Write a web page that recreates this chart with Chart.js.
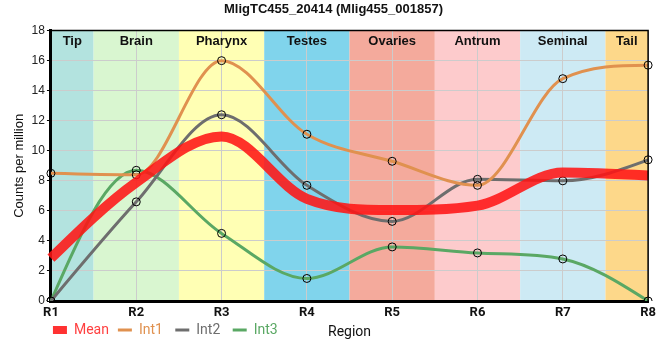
<!DOCTYPE html>
<html lang="en">
<head>
    <meta charset="UTF-8">
    <title>MligTC455_20414</title>
    <script src="https://cdn.jsdelivr.net/npm/chart.js"></script>
    <style>
        body {
            margin: 0;
            background: white;
        }
        #chart-container {
            width: 660px;
            height: 360px;
        }
    </style>
</head>
<body>
    <div id="chart-container">
        <canvas id="regionChart" width="660" height="360"></canvas>
    </div>

    <script>
        // data
        const regions = ['R1', 'R2', 'R3', 'R4', 'R5', 'R6', 'R7', 'R8'];
        const meanValues = [2.85, 7.9, 10.95, 6.8, 6.05, 6.35, 8.55, 8.35];
        const int1Values = [8.5, 8.4, 16.0, 11.1, 9.3, 7.7, 14.8, 15.7];
        const int2Values = [0, 6.6, 12.4, 7.7, 5.3, 8.1, 8.0, 9.4];
        const int3Values = [0, 8.7, 4.5, 1.5, 3.6, 3.2, 2.8, 0];
        const yTicks = [0, 2, 4, 6, 8, 10, 12, 14, 16, 18];

        // body regions shaded behind the plot
        const tissueNames = ['Tip', 'Brain', 'Pharynx', 'Testes', 'Ovaries', 'Antrum', 'Seminal', 'Tail'];
        const tissueColors = ['#b3e3df', '#d9f6d0', '#ffffb4', '#80d4ec', '#f4aa9c', '#fdcbcc', '#cdeaf4', '#fdd88a'];

        const seriesColors = {
            mean: 'rgba(255, 20, 20, 0.87)',
            int1: '#e0914f',
            int2: '#6e6e6e',
            int3: '#5aa864'
        };
        const legendText = {
            mean: '#ff4040',
            int1: '#e0914f',
            int2: '#6e6e6e',
            int3: '#5aa864'
        };

        const tissueBands = {
            id: 'tissueBands',
            beforeDraw(chart) {
                const { ctx, chartArea } = chart;
                const x = chart.scales.x;
                ctx.save();
                tissueNames.forEach((name, i) => {
                    const left = Math.max(chartArea.left, x.getPixelForValue(i - 0.5));
                    const right = Math.min(chartArea.right, x.getPixelForValue(i + 0.5));
                    ctx.fillStyle = tissueColors[i];
                    ctx.fillRect(left, chartArea.top, right - left, chartArea.bottom - chartArea.top);
                });
                ctx.restore();
            },
            beforeDatasetDraw(chart, args) {
                // steeper end tangents, like a d3 monotone curve
                const line = args.meta.dataset;
                const pts = args.meta.data;
                if (!line || pts.length < 3) return;
                line.updateControlPoints(chart.chartArea, 'x');
                const n = pts.length;
                const a = pts[0], b = pts[1];
                const s0 = (b.y - a.y) / (b.x - a.x);
                const t1 = (b.cp2y - b.y) / (b.cp2x - b.x);
                const t0 = (3 * s0 - t1) / 2;
                a.cp2y = a.y + t0 * (a.cp2x - a.x);
                const c = pts[n - 2], d = pts[n - 1];
                const sn = (d.y - c.y) / (d.x - c.x);
                const tc = (c.cp2y - c.y) / (c.cp2x - c.x);
                const tn = (3 * sn - tc) / 2;
                d.cp1y = d.y - tn * (d.x - d.cp1x);
            },
            afterDatasetsDraw(chart) {
                const { ctx, chartArea } = chart;
                const x = chart.scales.x;
                ctx.save();
                ctx.font = 'bold 13px "Liberation Sans", Arial, sans-serif';
                ctx.fillStyle = '#111';
                ctx.textAlign = 'center';
                ctx.textBaseline = 'middle';
                tissueNames.forEach((name, i) => {
                    const left = Math.max(chartArea.left, x.getPixelForValue(i - 0.5));
                    const right = Math.min(chartArea.right, x.getPixelForValue(i + 0.5));
                    ctx.fillText(name, (left + right) / 2, chartArea.top + 11);
                });
                // frame round the plot
                ctx.strokeStyle = '#000';
                ctx.lineWidth = 1.5;
                ctx.beginPath();
                ctx.moveTo(chartArea.left, chartArea.top);
                ctx.lineTo(chartArea.right, chartArea.top);
                ctx.lineTo(chartArea.right, chartArea.bottom);
                ctx.stroke();
                ctx.restore();
            },
            afterDraw(chart) {
                // x axis title sits on the legend row
                const { ctx, chartArea, legend } = chart;
                if (!legend || !legend.legendHitBoxes.length) return;
                const box = legend.legendHitBoxes[0];
                ctx.save();
                ctx.font = '14px Roboto, sans-serif';
                ctx.fillStyle = '#111';
                ctx.textAlign = 'center';
                ctx.textBaseline = 'middle';
                ctx.fillText('Region', (chartArea.left + chartArea.right) / 2, box.top + box.height / 2 + 2);
                ctx.restore();
            }
        };

        function lineSet(label, data, color, width, points) {
            return {
                label: label,
                data: data,
                borderColor: color,
                backgroundColor: color,
                borderWidth: width,
                fill: false,
                cubicInterpolationMode: 'monotone',
                pointRadius: points ? 4 : 0,
                pointHoverRadius: points ? 4 : 0,
                pointBackgroundColor: 'rgba(0,0,0,0)',
                pointBorderColor: '#000',
                pointBorderWidth: 1
            };
        }

        const ctx = document.getElementById('regionChart').getContext('2d');

        const regionChart = new Chart(ctx, {
            type: 'line',
            data: {
                labels: regions,
                datasets: [
                    lineSet('Mean', meanValues, seriesColors.mean, 10, false),
                    lineSet('Int1', int1Values, seriesColors.int1, 3, true),
                    lineSet('Int2', int2Values, seriesColors.int2, 3, true),
                    lineSet('Int3', int3Values, seriesColors.int3, 3, true)
                ]
            },
            plugins: [tissueBands],
            options: {
                responsive: false,
                animation: false,
                maintainAspectRatio: false,
                layout: {
                    padding: { left: 12, right: 5, top: 0, bottom: 13 }
                },
                plugins: {
                    title: {
                        display: true,
                        text: 'MligTC455_20414 (Mlig455_001857)',
                        color: '#111',
                        font: { family: '"Liberation Sans", Arial, sans-serif', size: 13, weight: 'bold' },
                        padding: { top: 2, bottom: 13 }
                    },
                    legend: {
                        position: 'bottom',
                        align: 'start',
                        fullSize: false,
                        labels: {
                            usePointStyle: true,
                            pointStyleWidth: 14,
                            boxHeight: 8,
                            padding: 2,
                            font: { family: 'Roboto, sans-serif', size: 14 },
                            generateLabels(chart) {
                                const keys = ['mean', 'int1', 'int2', 'int3'];
                                return chart.data.datasets.map((ds, i) => ({
                                    text: ds.label + (i === 0 ? '  ' : '   '),
                                    datasetIndex: i,
                                    fillStyle: ds.borderColor,
                                    strokeStyle: ds.borderColor,
                                    lineWidth: i === 0 ? 0 : 3,
                                    pointStyle: i === 0 ? 'rect' : 'line',
                                    fontColor: legendText[keys[i]],
                                    hidden: false
                                }));
                            }
                        }
                    },
                    tooltip: { enabled: false }
                },
                scales: {
                    x: {
                        offset: false,
                        grid: {
                            color: '#cccccc',
                            drawTicks: false
                        },
                        border: { color: '#000', width: 3 },
                        ticks: {
                            color: '#111',
                            padding: 4,
                            font: { family: 'Roboto, sans-serif', size: 13, weight: 'bold' }
                        },
                        afterFit(scale) {
                            scale.height = 20;
                        }
                    },
                    y: {
                        min: 0,
                        max: 18,
                        afterBuildTicks(axis) {
                            axis.ticks = yTicks.map(v => ({ value: v }));
                        },
                        grid: {
                            color: '#cccccc',
                            tickColor: '#000',
                            tickLength: 4
                        },
                        border: { color: '#000', width: 3 },
                        ticks: {
                            color: '#222',
                            padding: 2,
                            font: { family: '"Liberation Sans", Arial, sans-serif', size: 12 }
                        },
                        title: {
                            display: true,
                            text: 'Counts per million',
                            color: '#111',
                            font: { family: '"Liberation Sans", Arial, sans-serif', size: 13 },
                            padding: { top: 0, bottom: 2 }
                        }
                    }
                }
            }
        });
    </script>
</body>
</html>
